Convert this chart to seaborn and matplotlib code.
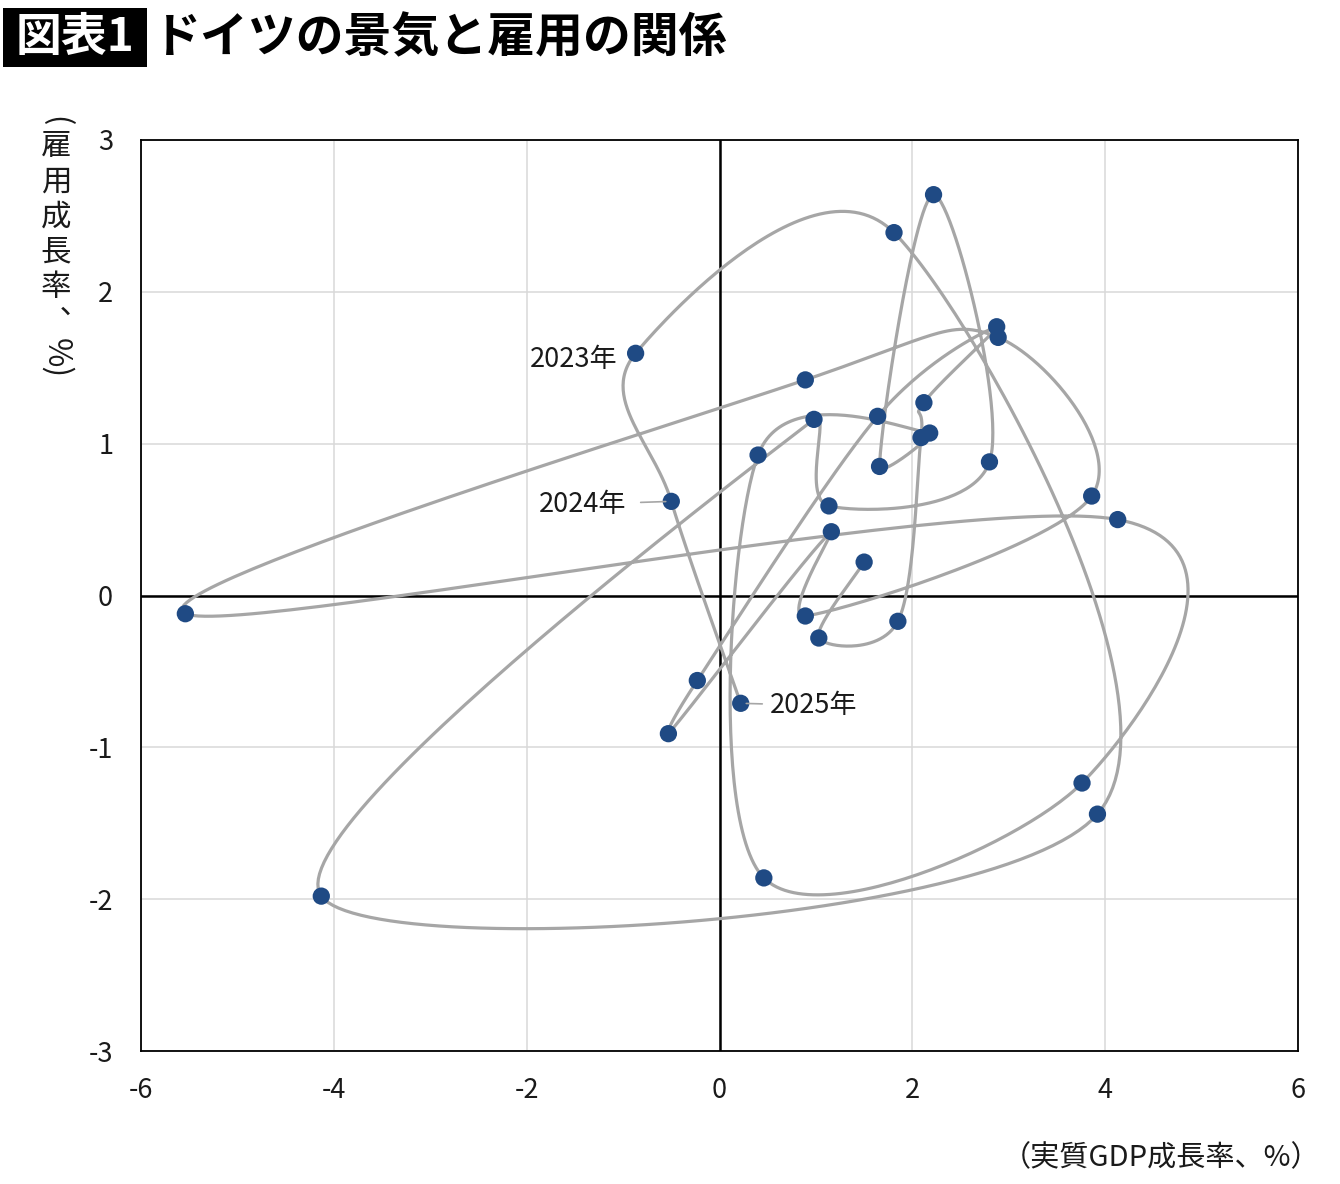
import numpy as np
import pandas as pd
import matplotlib
matplotlib.use("Agg")
import matplotlib.pyplot as plt
import seaborn as sns
from matplotlib.patches import Rectangle

# ---- data (1995-2025) ----
years = list(range(1995, 2026))
gdp_growth = [1.50, 1.03, 1.85, 2.09, 2.12, 2.875, 1.64, -0.23, -0.53, 1.16,
              0.89, 3.86, 2.89, 0.89, -5.54, 4.13, 3.76, 0.46, 0.40, 2.18,
              1.66, 2.22, 2.80, 1.135, 0.98, -4.13, 3.92, 1.81, -0.87, -0.50, 0.22]
emp_growth = [0.22, -0.28, -0.17, 1.04, 1.27, 1.77, 1.18, -0.56, -0.91, 0.42,
              -0.135, 0.655, 1.70, 1.42, -0.12, 0.50, -1.235, -1.86, 0.925, 1.07,
              0.85, 2.64, 0.88, 0.59, 1.16, -1.98, -1.44, 2.39, 1.595, 0.62, -0.71]
x_ticks = [-6, -4, -2, 0, 2, 4, 6]
y_ticks = [-3, -2, -1, 0, 1, 2, 3]

df = pd.DataFrame({"year": years, "gdp": gdp_growth, "emp": emp_growth})

sns.set_theme(style="white")
plt.rcParams['font.family'] = ['Noto Sans CJK JP', 'DejaVu Sans']

LINE_C = "#a6a6a6"
DOT_C = "#1f4a84"
TXT_C = "#1a1a1a"

def smooth_path(ax, xs, ys, n=60, k=0.5):
    """Spreadsheet-like smoothed line (Catmull-Rom Bezier in pixel space,
    with control handles limited where they would fold back over a short segment)."""
    P = ax.transData.transform(np.column_stack([xs, ys]).astype(float))
    m = len(P)
    cout, cin = P.copy(), P.copy()

    def limit(v, seg):
        lv, ls = np.linalg.norm(v), np.linalg.norm(seg)
        if lv == 0 or ls == 0:
            return v
        c = np.dot(v, seg) / (lv * ls)
        if c < 0:
            lim = k * (1 + c) * ls
            if lv > lim:
                v = v * (lim / lv)
        return v

    for i in range(m):
        prev = P[i - 1] if i > 0 else P[i]
        nxt = P[i + 1] if i < m - 1 else P[i]
        T = (nxt - prev) / 6.0
        cout[i] = P[i] + limit(T, nxt - P[i])
        cin[i] = P[i] + limit(-T, prev - P[i])
    t = np.linspace(0, 1, n)[:, None]
    segs = []
    for i in range(m - 1):
        p1, c1, c2, p2 = P[i], cout[i], cin[i + 1], P[i + 1]
        seg = ((1 - t) ** 3) * p1 + 3 * ((1 - t) ** 2) * t * c1 + 3 * (1 - t) * t ** 2 * c2 + t ** 3 * p2
        segs.append(seg if i == 0 else seg[1:])
    arr = ax.transData.inverted().transform(np.vstack(segs))
    return arr[:, 0], arr[:, 1]

W, H = 1340, 1184
fig = plt.figure(figsize=(13.4, 11.84), dpi=100)
ax = fig.add_axes([141/W, 1 - 1051/H, (1298-141)/W, (1051-140)/H])

ax.set_xlim(-6, 6)
ax.set_ylim(-3, 3)
ax.set_xticks(x_ticks)
ax.set_yticks(y_ticks)
ax.grid(True, color="#d9d9d9", lw=1.1)
ax.set_axisbelow(True)
ax.axhline(0, color="black", lw=1.8, zorder=1.5)
ax.axvline(0, color="black", lw=1.8, zorder=1.5)
for s in ax.spines.values():
    s.set_color("black")
    s.set_linewidth(1.3)
ax.tick_params(axis="both", length=0, labelsize=19.5, colors=TXT_C)
ax.tick_params(axis="x", pad=19)
ax.tick_params(axis="y", pad=20)
ax.set_xticklabels([str(v) for v in x_ticks])
ax.set_yticklabels([str(v) for v in y_ticks])

sx, sy = smooth_path(ax, df["gdp"].values, df["emp"].values)
ax.plot(sx, sy, color=LINE_C, lw=2.3, zorder=2, solid_capstyle="round", solid_joinstyle="round")
sns.scatterplot(data=df, x="gdp", y="emp", ax=ax, color=DOT_C, s=155,
                edgecolor="none", zorder=3, legend=False)
ax.set_xlabel("")
ax.set_ylabel("")

# year labels
sub = df.set_index("year")
ax.annotate("2023年", xy=(sub.loc[2023, "gdp"], sub.loc[2023, "emp"]),
            xytext=(-18, -6), textcoords="offset pixels", ha="right", va="center",
            fontsize=19.5, color=TXT_C)
ax.annotate("2024年", xy=(sub.loc[2024, "gdp"], sub.loc[2024, "emp"]),
            xytext=(-45, -3), textcoords="offset pixels", ha="right", va="center",
            fontsize=19.5, color=TXT_C,
            arrowprops=dict(arrowstyle="-", color=LINE_C, lw=1.2, shrinkA=8, shrinkB=4))
ax.annotate("2025年", xy=(sub.loc[2025, "gdp"], sub.loc[2025, "emp"]),
            xytext=(29, -2), textcoords="offset pixels", ha="left", va="center",
            fontsize=19.5, color=TXT_C,
            arrowprops=dict(arrowstyle="-", color=LINE_C, lw=1.2, shrinkA=3, shrinkB=4))

# title
fig.patches.append(Rectangle((3/W, 1 - 67/H), 144/W, 59/H, transform=fig.transFigure,
                             facecolor="black", edgecolor="none"))
fig.text(75/W, 1 - 38/H, "図表1", color="white", fontsize=33, fontweight="bold",
         ha="center", va="center")
fig.text(153/W, 1 - 38/H, "ドイツの景気と雇用の関係", color="black", fontsize=34.5,
         fontweight="bold", ha="left", va="center")

# y-axis label (vertical writing)
fig.text(56/W, 1 - 121/H, "(", rotation=-90, fontsize=22, ha="center", va="center", color=TXT_C)
fig.text(56/W, 1 - 131/H, "雇\n用\n成\n長\n率\n︑", fontsize=22, ha="center", va="top",
         linespacing=1.18, color=TXT_C)
fig.text(56/W, 1 - 358/H, "%)", rotation=-90, fontsize=23, ha="center", va="center", color=TXT_C)

# x-axis label
fig.text(1320/W, 1 - 1158/H, "（実質GDP成長率、%）", fontsize=21, ha="right", va="center",
         color=TXT_C)

fig.savefig("out.png", dpi=100, facecolor="white")
